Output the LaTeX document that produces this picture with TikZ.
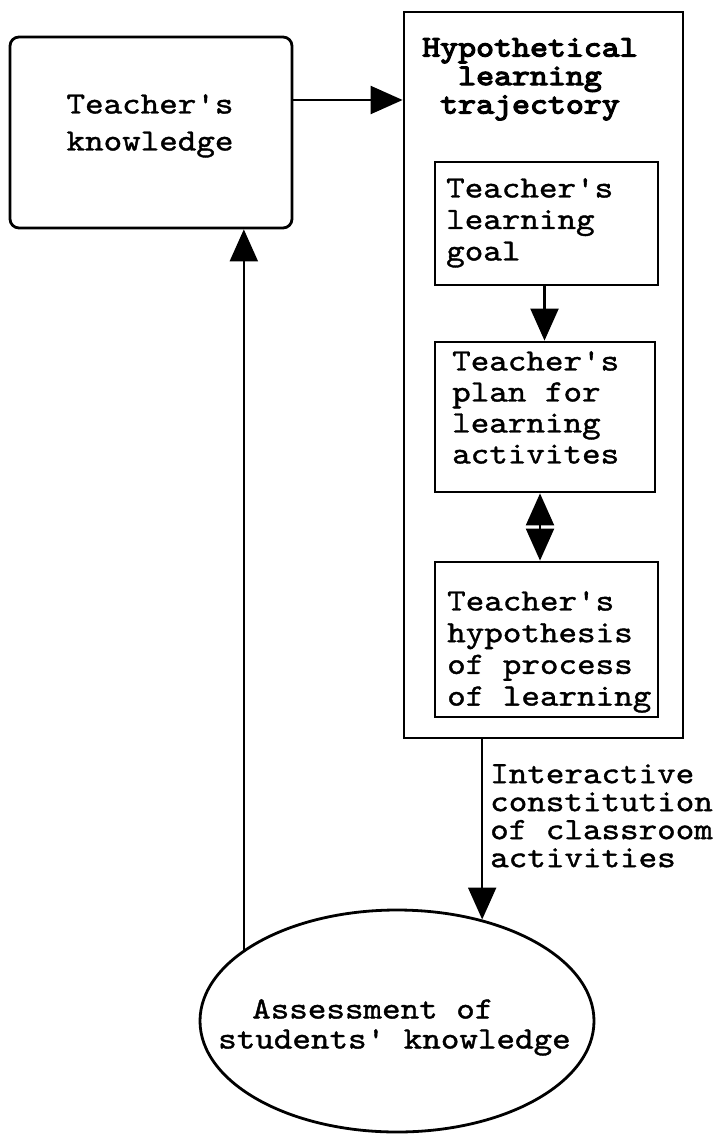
\documentclass[tikz,border=0pt]{standalone}
\usepackage{fontspec}
\newfontfamily\courier{lmmono10-regular.otf}[Ligatures = ResetAll, FakeStretch = 1.14, FakeBold = 1.2]
\newfontfamily\courierbold{lmmono10-regular.otf}[Ligatures = ResetAll, FakeStretch = 1.14, FakeBold = 4]
\usetikzlibrary{shapes.geometric}
\usetikzlibrary{arrows.meta}

\begin{document}
\begin{tikzpicture}[x = 1pt, y = -1pt,
    box/.style = {draw, line width = 2.8pt, inner sep = 0pt},
    txt/.style = {font = \courier\fontsize{31}{#1}\selectfont, inner sep = 0pt},
    txt/.default = 31,
    headtxt/.style = {font = \courierbold\fontsize{30}{28.5}\selectfont, inner sep = 0pt},
    arr/.style = {line width = 2.2pt, -{Triangle[length = 32pt, width = 28pt]}},
    dblarr/.style = {line width = 2.2pt,
        {Triangle[length = 32pt, width = 28pt]}-{Triangle[length = 32pt, width = 28pt]}}]
\useasboundingbox (0, 0) rectangle (724, 1134);

% boxes
\node [box, rounded corners = 9pt, minimum width = 282pt, minimum height = 191pt]
    (know) at (151, 132.5) {};
\node [box, minimum width = 279pt, minimum height = 726pt] (hlt) at (543.5, 375) {};
\node [box, minimum width = 223pt, minimum height = 123pt] (goal) at (546.5, 223.5) {};
\node [box, minimum width = 220pt, minimum height = 150pt] (plan) at (545, 417) {};
\node [box, minimum width = 223pt, minimum height = 155pt] (hyp) at (546.5, 639.5) {};
\node [ellipse, box, minimum width = 394pt, minimum height = 222pt] (assess)
    at (397, 1021) {};

% texts
\node [txt = 37, align = center, anchor = north] (knowtxt) at (150, 94)
    {Teacher's\\knowledge};
\node [headtxt, align = center, anchor = north] (title) at (530, 38)
    {Hypothetical\\learning\\trajectory};
\node [txt = 31.5, align = left, anchor = north west] (goaltxt) at (446, 178)
    {Teacher's\\learning\\goal};
\node [txt = 31, align = left, anchor = north west] (plantxt) at (452, 351)
    {Teacher's\\plan for\\learning\\activites};
\node [txt = 31.7, align = left, anchor = north west] (hyptxt) at (447, 591)
    {Teacher's\\hypothesis\\of process\\of learning};
\node [txt = 30, align = left, anchor = north west] (assesstxt) at (218, 999)
    {\hspace*{34pt}Assessment of\\students' knowledge};
\node [txt = 28, align = left, anchor = north west] (inter) at (490, 764)
    {Interactive\\constitution\\of classroom\\activities};

% arrows
\draw [arr] ([yshift = 32.5pt]know.east) -- ([yshift = 32.5pt]know.east -| hlt.west);
\draw [arr] ([xshift = -2pt]goal.south) -- ([xshift = -2pt]goal.south |- plan.north);
\draw [dblarr] ([xshift = -5pt]plan.south) -- ([xshift = -5pt]plan.south |- hyp.north);
\draw [arr] (assess.50 |- hlt.south) -- (assess.50);
\draw [arr] (assess.155) -- (assess.155 |- know.south);
\end{tikzpicture}
\end{document}
